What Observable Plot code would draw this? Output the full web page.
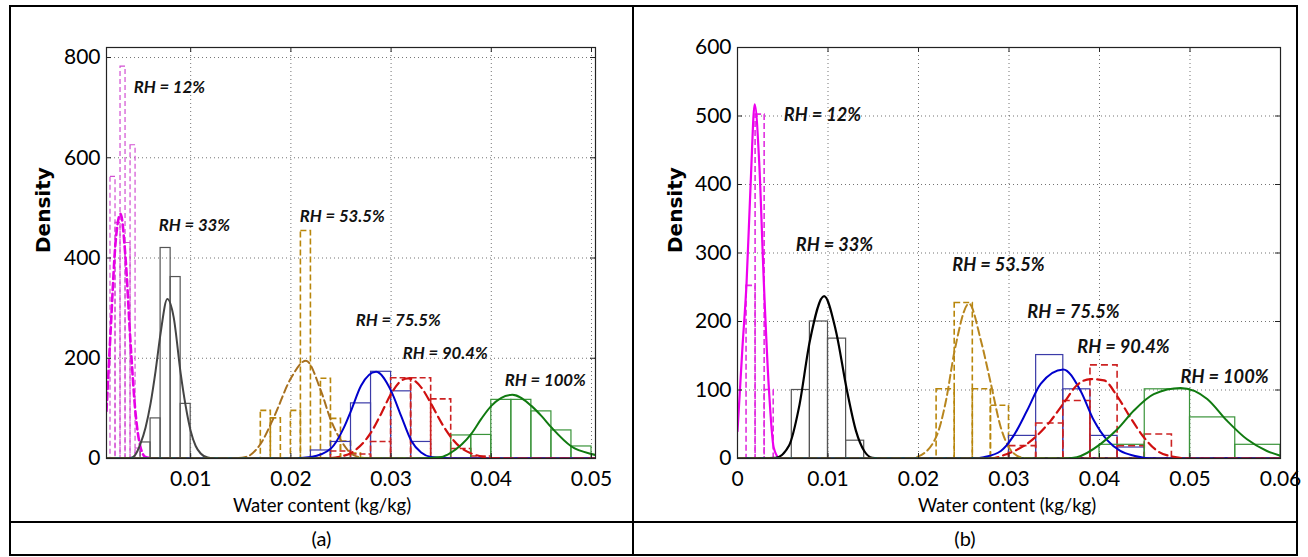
<!DOCTYPE html>
<html>
<head>
<meta charset="utf-8">
<script src="https://cdn.jsdelivr.net/npm/d3@7"></script>
<script src="https://cdn.jsdelivr.net/npm/@observablehq/plot@0.6"></script>
<style>
  html, body { margin: 0; padding: 0; background: #fff; }
  #page { position: relative; width: 1308px; height: 557px; overflow: hidden; font-family: Lato, "Noto Sans", sans-serif; }
  .panel { position: absolute; top: 0; }
  .line { position: absolute; background: #000; }
  .cap { position: absolute; top: 526px; font-size: 20px; color: #000; text-align: center; }
</style>
</head>
<body>
<div id="page">
  <div id="pa" class="panel" style="left:0px"></div>
  <div id="pb" class="panel" style="left:633px"></div>
  <div class="line" style="left:9px; top:5px; width:1289px; height:2px"></div>
  <div class="line" style="left:9px; top:521px; width:1289px; height:2px"></div>
  <div class="line" style="left:9px; top:554px; width:1289px; height:2px"></div>
  <div class="line" style="left:9px; top:5px; width:2px; height:551px"></div>
  <div class="line" style="left:632px; top:5px; width:2px; height:551px"></div>
  <div class="line" style="left:1296px; top:5px; width:2px; height:551px"></div>
  <div class="cap" style="left:11px; width:621px">(a)</div>
  <div class="cap" style="left:634px; width:662px">(b)</div>
</div>
<script>
// ---------- shared ----------
const seriesNames = ["RH = 12%", "RH = 33%", "RH = 53.5%", "RH = 75.5%", "RH = 90.4%", "RH = 100%"];
const xTitle = "Water content (kg/kg)";
const yTitle = "Density";

// ---------- panel (a) ----------
const A_xDomain = [0.0016, 0.0504];
const A_yDomain = [0, 820];
const A_xTicks = [0.01, 0.02, 0.03, 0.04, 0.05];
const A_yTicks = [0, 200, 400, 600, 800];

// histogram bins: [left, right, density]
const A_hist_12 = [[0.0020,0.0025,562],[0.0025,0.0030,470],[0.0030,0.0035,782],[0.0035,0.0040,430],[0.0040,0.0045,625],[0.0045,0.0050,20]];
const A_hist_33 = [[0.005,0.006,32],[0.006,0.007,80],[0.007,0.008,420],[0.008,0.009,362],[0.009,0.010,109]];
const A_hist_53 = [[0.017,0.018,95],[0.018,0.019,80],[0.020,0.021,95],[0.021,0.022,454],[0.023,0.024,159],[0.024,0.025,79],[0.025,0.026,34],[0.026,0.027,10]];
const A_hist_75 = [[0.022,0.024,16],[0.024,0.026,33],[0.026,0.028,110],[0.028,0.030,173],[0.030,0.032,134],[0.032,0.034,33]];
const A_hist_90 = [[0.024,0.026,14],[0.026,0.028,8],[0.028,0.030,33],[0.030,0.032,160],[0.032,0.034,160],[0.034,0.036,118],[0.036,0.038,19],[0.038,0.040,4]];
const A_hist_100 = [[0.036,0.038,46],[0.038,0.040,47],[0.040,0.042,117],[0.042,0.044,117],[0.044,0.046,94],[0.046,0.048,56],[0.048,0.050,24]];

// fitted density curves: [x, density]
const A_fit_12 = [[0.0016,95],[0.0020,250],[0.0025,430],[0.0030,488],[0.0035,400],[0.0040,230],[0.0045,90],[0.0050,22],[0.0055,3],[0.0065,0],[0.0504,0]];
const A_fit_33 = [[0.0016,0],[0.0040,1],[0.0045,8],[0.0050,30],[0.0055,62],[0.0060,110],[0.0065,175],[0.0070,250],[0.00767,318],[0.0083,282],[0.0090,170],[0.0095,105],[0.0100,55],[0.0105,25],[0.0110,10],[0.0117,2],[0.0125,0],[0.0504,0]];
const A_fit_53 = [[0.0016,0],[0.0140,0],[0.0155,3],[0.0170,30],[0.0183,82],[0.0200,160],[0.0215,195],[0.0230,135],[0.0240,76],[0.0250,36],[0.0260,10],[0.0270,2],[0.0280,0],[0.0504,0]];
const A_fit_75 = [[0.0016,0],[0.020,0],[0.022,3],[0.024,20],[0.0253,62],[0.026,95],[0.027,145],[0.0285,173],[0.030,135],[0.031,85],[0.032,36],[0.033,12],[0.034,3],[0.036,0],[0.0504,0]];
const A_fit_90 = [[0.0016,0],[0.022,0],[0.024,1],[0.025,4],[0.026,11],[0.028,52],[0.029,89],[0.030,129],[0.031,155],[0.0317,160],[0.033,142],[0.034,109],[0.035,72],[0.036,42],[0.037,21],[0.038,10],[0.039,4],[0.040,1],[0.042,0],[0.0504,0]];
const A_fit_100 = [[0.0016,0],[0.032,0],[0.035,3],[0.036,12],[0.038,49],[0.039,79],[0.040,105],[0.0421,127],[0.044,105],[0.045,85],[0.046,62],[0.048,24],[0.050,9],[0.0504,7]];

// label anchors (x, density)
const A_labelX = [0.00431, 0.00681, 0.02088, 0.02647, 0.03116, 0.04134];
const A_labelY = [739, 465, 482, 275, 209, 155];

// ---------- panel (b) ----------
const B_xDomain = [0, 0.06];
const B_yDomain = [0, 600];
const B_xTicks = [0, 0.01, 0.02, 0.03, 0.04, 0.05, 0.06];
const B_yTicks = [0, 100, 200, 300, 400, 500, 600];

const B_hist_12 = [[0.001,0.002,252],[0.002,0.003,502],[0.003,0.004,100]];
const B_hist_33 = [[0.006,0.008,100],[0.008,0.010,200],[0.010,0.012,175],[0.012,0.014,26]];
const B_hist_53 = [[0.022,0.024,101],[0.024,0.026,227],[0.026,0.028,101],[0.028,0.030,77]];
const B_hist_75 = [[0.030,0.033,33],[0.033,0.036,151],[0.036,0.039,101],[0.039,0.042,33],[0.042,0.045,16]];
const B_hist_90 = [[0.030,0.033,18],[0.033,0.036,51],[0.036,0.039,84],[0.039,0.042,136],[0.042,0.045,18],[0.045,0.048,35]];
const B_hist_100 = [[0.040,0.045,20],[0.045,0.050,101],[0.050,0.055,60],[0.055,0.060,20]];

const B_fit_12 = [[0,40],[0.00055,163],[0.0010,256],[0.00147,407],[0.0019,517],[0.0024,432],[0.0029,260],[0.00346,104],[0.0040,16],[0.0046,1],[0.0055,0],[0.06,0]];
const B_fit_33 = [[0,0],[0.0042,1],[0.0057,19],[0.0068,75],[0.0080,172],[0.00957,237],[0.01086,187],[0.0121,99],[0.0131,40],[0.0140,11],[0.0149,1],[0.016,0],[0.06,0]];
const B_fit_53 = [[0,0],[0.019,0],[0.020,3],[0.022,33],[0.023,82],[0.024,158],[0.02558,226],[0.0269,172],[0.028,109],[0.0291,45],[0.030,16],[0.0309,4],[0.032,0],[0.06,0]];
const B_fit_75 = [[0,0],[0.026,0],[0.0272,2],[0.0291,11],[0.0305,33],[0.032,70],[0.0335,109],[0.036,130],[0.0379,99],[0.0394,55],[0.0409,26],[0.0423,11],[0.0438,4],[0.046,0],[0.06,0]];
const B_fit_90 = [[0,0],[0.028,0],[0.02945,5],[0.0329,31],[0.0346,55],[0.0361,82],[0.0375,107],[0.039,116],[0.0405,114],[0.042,90],[0.0434,60],[0.0449,31],[0.0464,11],[0.048,3],[0.050,0],[0.06,0]];
const B_fit_100 = [[0,0],[0.036,0],[0.0375,2],[0.0401,21],[0.042,43],[0.0438,70],[0.046,94],[0.04896,103],[0.0519,87],[0.0541,55],[0.0563,28],[0.0585,11],[0.060,4]];

const B_labelX = [0.00511, 0.00644, 0.02374, 0.03203, 0.03755, 0.04896];
const B_labelY = [501, 312, 282, 214, 163, 118];

// ---------- styles ----------
const FONT = "Lato, 'Noto Sans', sans-serif";

function panel(cfg) {
  const W = cfg.width, H = cfg.height, m = cfg.margin;
  const pw = W - m.left - m.right, ph = H - m.top - m.bottom;
  const marks = [];
  const grid = {stroke: "#000", strokeOpacity: 0.55, strokeWidth: 1, strokeDasharray: "1,3"};
  marks.push(Plot.gridX(cfg.xTicks, grid));
  marks.push(Plot.gridY(cfg.yTicks, grid));
  cfg.hists.forEach((h, i) => {
    const s = cfg.histStyle[i];
    marks.push(Plot.rect(h, {x1: d => d[0], x2: d => d[1], y1: 0, y2: d => d[2], fill: "none",
      stroke: s.stroke, strokeWidth: s.width, strokeDasharray: s.dash, clip: true}));
  });
  cfg.fits.forEach((f, i) => {
    const s = cfg.fitStyle[i];
    marks.push(Plot.line(f, {x: d => d[0], y: d => d[1], stroke: s.stroke, strokeWidth: s.width,
      strokeDasharray: s.dash, curve: "monotone-x", clip: true}));
  });
  // inward ticks on all four sides
  const tk = {stroke: "#222", strokeWidth: 1};
  marks.push(Plot.ruleX(cfg.xTicks, {x: d => d, insetTop: ph - 5, ...tk}));
  marks.push(Plot.ruleX(cfg.xTicks, {x: d => d, insetBottom: ph - 5, ...tk}));
  marks.push(Plot.ruleY(cfg.yTicks, {y: d => d, insetRight: pw - 5, ...tk}));
  marks.push(Plot.ruleY(cfg.yTicks, {y: d => d, insetLeft: pw - 5, ...tk}));
  marks.push(Plot.frame({stroke: "#222", strokeWidth: 1.2}));
  marks.push(Plot.axisX(cfg.xTicks, {tickSize: 0, tickPadding: 13, fontSize: 21, tickFormat: d => String(d), label: null, fill: "#000"}));
  marks.push(Plot.axisY(cfg.yTicks, {tickSize: 0, tickPadding: 6, fontSize: 21, tickFormat: d => String(d), label: null, fill: "#000"}));
  marks.push(Plot.text(seriesNames, {x: (d, i) => cfg.labelX[i], y: (d, i) => cfg.labelY[i], text: d => d,
    textAnchor: "start", fontWeight: "bold", fontStyle: "italic", fontSize: cfg.labelSize, fill: "#111"}));
  marks.push(Plot.text([yTitle], {text: d => d, frameAnchor: "left", dx: cfg.yTitleDx, rotate: -90,
    fontWeight: "bold", fontSize: 20, fontFamily: "'DejaVu Sans', Lato, sans-serif", fill: "#000"}));
  marks.push(Plot.text([xTitle], {text: d => d, frameAnchor: "bottom", dx: cfg.xTitleDx, dy: 48,
    lineAnchor: "middle", fontSize: 18.5, fill: "#000"}));
  return Plot.plot({
    width: W, height: H,
    marginLeft: m.left, marginRight: m.right, marginTop: m.top, marginBottom: m.bottom,
    x: {domain: cfg.xDomain},
    y: {domain: cfg.yDomain},
    style: {fontFamily: FONT, background: "transparent", overflow: "visible", color: "#000"},
    marks
  });
}

const A_histStyle = [
  {stroke: "#d24fd2", width: 1.2, dash: "5,3"},
  {stroke: "#555555", width: 1.2, dash: null},
  {stroke: "#b8860b", width: 1.6, dash: "6,3"},
  {stroke: "#3b3ba8", width: 1.2, dash: null},
  {stroke: "#cc2222", width: 1.6, dash: "6,3"},
  {stroke: "#3a943a", width: 1.2, dash: null}
];
const A_fitStyle = [
  {stroke: "#e600e6", width: 2.6, dash: "7,4"},
  {stroke: "#444444", width: 2, dash: null},
  {stroke: "#a8701e", width: 2, dash: "8,4"},
  {stroke: "#0000cc", width: 2, dash: null},
  {stroke: "#d01010", width: 2.2, dash: "9,5"},
  {stroke: "#107a10", width: 2, dash: null}
];
const B_histStyle = [
  {stroke: "#e030e0", width: 1.6, dash: "6,3"},
  {stroke: "#555555", width: 1.2, dash: null},
  {stroke: "#b8860b", width: 1.6, dash: "6,3"},
  {stroke: "#3b3ba8", width: 1.2, dash: null},
  {stroke: "#cc2222", width: 1.6, dash: "7,4"},
  {stroke: "#3a943a", width: 1.2, dash: null}
];
const B_fitStyle = [
  {stroke: "#ee00ee", width: 2.2, dash: null},
  {stroke: "#000000", width: 2.2, dash: null},
  {stroke: "#b8861e", width: 2, dash: "8,4"},
  {stroke: "#0000cc", width: 2, dash: null},
  {stroke: "#d01010", width: 2.2, dash: "9,5"},
  {stroke: "#107a10", width: 2, dash: null}
];

document.getElementById("pa").appendChild(panel({
  width: 633, height: 520, margin: {left: 106, right: 38, top: 47, bottom: 62},
  xDomain: A_xDomain, yDomain: A_yDomain, xTicks: A_xTicks, yTicks: A_yTicks,
  hists: [A_hist_12, A_hist_33, A_hist_53, A_hist_75, A_hist_90, A_hist_100],
  fits: [A_fit_12, A_fit_33, A_fit_53, A_fit_75, A_fit_90, A_fit_100],
  histStyle: A_histStyle, fitStyle: A_fitStyle,
  labelX: A_labelX, labelY: A_labelY, labelSize: 16.8,
  yTitleDx: -63, xTitleDx: -29
}));
document.getElementById("pb").appendChild(panel({
  width: 665, height: 520, margin: {left: 104, right: 18, top: 47, bottom: 62},
  xDomain: B_xDomain, yDomain: B_yDomain, xTicks: B_xTicks, yTicks: B_yTicks,
  hists: [B_hist_12, B_hist_33, B_hist_53, B_hist_75, B_hist_90, B_hist_100],
  fits: [B_fit_12, B_fit_33, B_fit_53, B_fit_75, B_fit_90, B_fit_100],
  histStyle: B_histStyle, fitStyle: B_fitStyle,
  labelX: B_labelX, labelY: B_labelY, labelSize: 18.2,
  yTitleDx: -62, xTitleDx: -2
}));
</script>
</body>
</html>
